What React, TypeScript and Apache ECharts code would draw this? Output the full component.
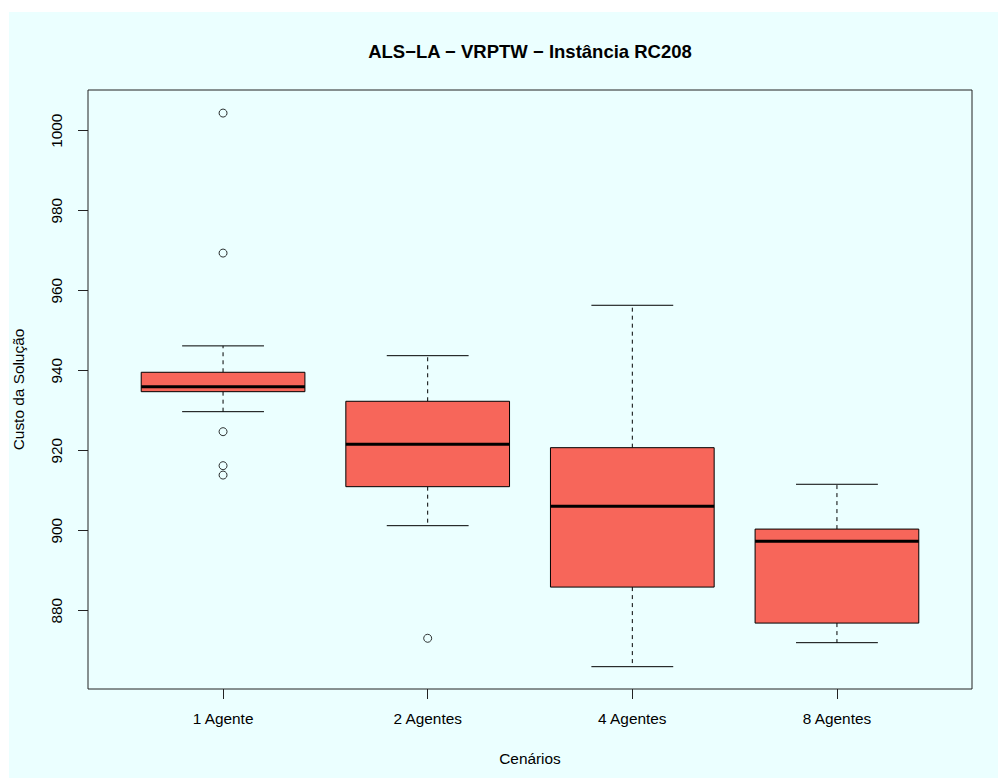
import React, { useEffect, useRef } from "react";
import * as echarts from "echarts";

const categories = ["1 Agente", "2 Agentes", "4 Agentes", "8 Agentes"];
const categoryPos = [1, 2, 3, 4];
const whiskerLow = [929.75, 901.25, 866.0, 872.0];
const quartile1 = [934.75, 911.0, 885.9, 876.9];
const median = [936.0, 921.6, 906.1, 897.35];
const quartile3 = [939.6, 932.35, 920.75, 900.4];
const whiskerHigh = [946.2, 943.75, 956.35, 911.6];
const outlierGroup = [1, 1, 1, 1, 1, 2];
const outlierValue = [1004.4, 969.4, 924.75, 916.25, 913.9, 873.1];
const yTicks = [880, 900, 920, 940, 960, 980, 1000];

const TITLE = "ALS\u2212LA \u2212 VRPTW \u2212 Inst\u00e2ncia RC208";
const FONT = "'Liberation Sans', Arial, Helvetica, sans-serif";
const FS = 15.4;
const BOX_FILL = "#F7665A";
const BG = "#EBFFFF";

export default function App() {
  const ref = useRef<HTMLDivElement>(null);
  useEffect(() => {
    if (!ref.current) return;
    const chart = echarts.init(ref.current, null, { renderer: "svg" });
    const boxData = categoryPos.map((x, i) => [
      x,
      whiskerLow[i],
      quartile1[i],
      median[i],
      quartile3[i],
      whiskerHigh[i],
    ]);
    const outlierData = outlierGroup.map((g, i) => [g, outlierValue[i]]);

    const renderItem = (params: any, api: any) => {
      const x = api.value(0);
      const lo = api.coord([x, api.value(1)]);
      const q1 = api.coord([x, api.value(2)]);
      const md = api.coord([x, api.value(3)]);
      const q3 = api.coord([x, api.value(4)]);
      const hi = api.coord([x, api.value(5)]);
      const boxW = api.size([0.8, 0])[0];
      const capW = api.size([0.4, 0])[0];
      const cx = lo[0];
      const dash = { stroke: "#000", lineWidth: 1, lineDash: [4, 4] };
      const solid = { stroke: "#000", lineWidth: 1 };
      return {
        type: "group",
        children: [
          { type: "line", shape: { x1: cx, y1: q3[1], x2: cx, y2: hi[1] }, style: dash },
          { type: "line", shape: { x1: cx, y1: q1[1], x2: cx, y2: lo[1] }, style: dash },
          { type: "line", shape: { x1: cx - capW / 2, y1: hi[1], x2: cx + capW / 2, y2: hi[1] }, style: solid },
          { type: "line", shape: { x1: cx - capW / 2, y1: lo[1], x2: cx + capW / 2, y2: lo[1] }, style: solid },
          {
            type: "rect",
            shape: { x: cx - boxW / 2, y: q3[1], width: boxW, height: q1[1] - q3[1] },
            style: { fill: BOX_FILL, stroke: "#000", lineWidth: 1 },
          },
          {
            type: "line",
            shape: { x1: cx - boxW / 2, y1: md[1], x2: cx + boxW / 2, y2: md[1] },
            style: { stroke: "#000", lineWidth: 3 },
          },
        ],
      };
    };

    chart.setOption({
      animation: false,
      backgroundColor: BG,
      textStyle: { fontFamily: FONT },
      graphic: [
        {
          type: "text",
          x: 521,
          y: 39,
          style: {
            text: TITLE,
            font: `bold 18.5px ${FONT}`,
            fill: "#000",
            textAlign: "center",
            textVerticalAlign: "middle",
          },
        },
      ],
      grid: {
        left: 79,
        top: 78,
        width: 884,
        height: 599,
        containLabel: false,
        outerBoundsMode: "none",
        show: true,
        borderColor: "#222",
        borderWidth: 1,
        backgroundColor: "transparent",
      },
      xAxis: {
        type: "value",
        min: 0.34,
        max: 4.66,
        name: "Cen\u00e1rios",
        nameLocation: "middle",
        nameGap: 62,
        nameTextStyle: { fontSize: FS, color: "#000", fontFamily: FONT },
        axisLine: { show: false },
        splitLine: { show: false },
        axisTick: {
          show: true,
          length: 10,
          customValues: categoryPos,
          lineStyle: { color: "#222" },
        },
        axisLabel: {
          customValues: categoryPos,
          formatter: (v: number) => categories[Math.round(v) - 1] ?? "",
          fontSize: FS,
          color: "#000",
          fontFamily: FONT,
          margin: 22,
        },
      },
      yAxis: {
        type: "value",
        min: 860.42,
        max: 1010.17,
        name: "Custo da Solu\u00e7\u00e3o",
        nameLocation: "middle",
        nameGap: 62,
        nameTextStyle: { fontSize: FS, color: "#000", fontFamily: FONT },
        axisLine: { show: false },
        splitLine: { show: false },
        axisTick: {
          show: true,
          length: 10,
          customValues: yTicks,
          lineStyle: { color: "#222" },
        },
        axisLabel: {
          customValues: yTicks,
          formatter: (v: number) => String(Math.round(v)),
          rotate: 90,
          fontSize: FS,
          color: "#000",
          fontFamily: FONT,
          margin: 24,
        },
      },
      series: [
        {
          type: "custom",
          renderItem,
          data: boxData,
          encode: { x: 0, y: [1, 2, 3, 4, 5] },
          silent: true,
        },
        {
          type: "scatter",
          data: outlierData,
          symbol: "circle",
          symbolSize: 8,
          itemStyle: { color: "transparent", borderColor: "#000", borderWidth: 1 },
          silent: true,
        },
      ],
    });
    return () => chart.dispose();
  }, []);
  return (
    <div
      ref={ref}
      style={{ position: "fixed", left: 9, top: 12, width: 989, height: 766 }}
    />
  );
}
